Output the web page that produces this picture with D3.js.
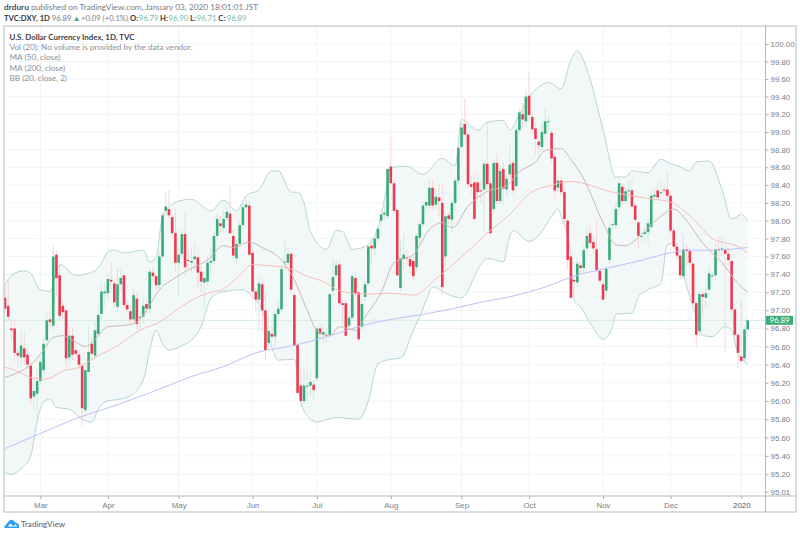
<!DOCTYPE html>
<html>
<head>
<meta charset="utf-8">
<script src="https://cdnjs.cloudflare.com/ajax/libs/d3/7.8.5/d3.min.js"></script>
<style>
    html, body { margin: 0; padding: 0; background: #fff; }
    svg { display: block; font-family: Lato, "Open Sans", sans-serif; }
    .tick text { fill: #7b7e84; }
</style>
</head>
<body>
<svg id="chart" width="800" height="535"></svg>
<script>
// one entry per trading day, 14 Feb 2019 to 3 Jan 2020
var opens = [
    97.14,97.05,96.80,96.80,96.53,96.48,96.58,96.51,96.39,96.05,
    96.08,96.22,96.34,96.67,96.90,96.83,97.62,97.39,97.05,97.00,
    96.48,96.72,96.56,96.51,96.39,95.90,96.32,96.63,96.50,96.74,
    96.96,97.19,97.19,97.34,97.30,97.04,97.29,97.39,97.06,96.99,
    96.90,97.13,96.92,96.93,97.07,97.02,97.42,97.38,97.28,97.60,
    98.11,98.13,98.04,97.86,97.53,97.63,97.85,97.56,97.53,97.57,
    97.59,97.43,97.31,97.32,97.53,97.55,97.83,97.97,97.92,98.03,
    98.08,97.83,97.58,97.74,97.95,98.15,98.17,97.64,97.21,97.12,
    97.29,97.00,96.64,96.74,96.71,96.96,97.01,97.53,97.53,97.63,
    97.17,96.62,96.17,96.00,96.16,96.17,96.18,96.25,96.80,96.73,
    96.72,96.73,97.22,97.39,97.51,97.08,97.08,96.83,96.92,97.36,
    97.20,96.82,97.15,97.30,97.72,97.69,97.80,98.00,98.07,98.05,
    98.61,98.42,98.12,97.25,97.57,97.59,97.57,97.55,97.48,97.81,
    97.96,98.17,98.17,98.37,98.18,98.26,98.20,97.60,98.06,98.01,
    98.20,98.45,98.83,99.09,98.97,98.41,98.43,98.43,98.34,98.35,
    98.64,98.42,98.13,98.65,98.22,98.58,98.35,98.52,98.65,98.39,
    99.02,99.20,99.12,99.41,99.17,99.04,98.89,98.83,98.98,99.11,
    98.99,98.72,98.37,98.45,98.32,98.00,97.60,97.34,97.31,97.50,
    97.47,97.69,97.86,97.76,97.68,97.44,97.29,97.22,97.56,97.95,
    97.95,98.15,98.38,98.22,98.33,98.34,98.17,97.98,97.82,97.85,
    97.87,97.93,98.27,98.34,98.31,98.35,98.35,98.28,97.89,97.71,
    97.61,97.38,97.68,97.66,97.52,97.08,96.77,97.18,97.14,97.23,
    97.38,97.39,97.68,97.68,97.68,97.63,97.55,97.01,96.73,96.49,96.47,96.79
];
var highs = [
    97.29,97.36,96.91,96.90,96.60,96.78,96.78,96.59,96.42,96.23,
    96.34,96.48,96.70,97.00,97.00,97.72,97.66,97.51,97.10,97.02,
    96.82,96.82,96.62,96.55,96.42,96.40,96.82,96.70,96.88,97.05,
    97.31,97.30,97.41,97.53,97.34,97.47,97.45,97.42,97.12,97.05,
    97.25,97.20,97.00,97.12,97.12,97.48,97.48,97.42,97.66,98.10,
    98.33,98.34,98.08,98.13,97.70,97.90,98.11,97.70,97.70,97.75,
    97.68,97.50,97.42,97.62,97.70,97.88,98.08,98.05,98.11,98.15,
    98.38,97.90,97.80,98.00,98.20,98.24,98.22,97.68,97.25,97.38,
    97.36,97.19,96.95,96.82,97.00,97.10,97.50,97.77,97.70,97.66,
    97.20,96.65,96.36,96.36,96.35,96.30,96.22,96.83,96.84,96.85,
    96.80,97.20,97.58,97.57,97.55,97.12,97.12,97.00,97.42,97.43,
    97.22,97.12,97.33,97.74,97.81,97.84,97.95,98.13,98.18,98.60,
    98.95,98.46,98.15,97.79,97.85,97.68,97.60,97.60,97.86,98.00,
    98.22,98.25,98.47,98.47,98.34,98.41,98.41,98.10,98.10,98.25,
    98.48,98.85,99.14,99.38,99.00,98.52,98.54,98.52,98.44,98.68,
    99.12,98.46,98.70,98.75,98.62,98.65,98.52,98.84,98.70,99.06,
    99.26,99.33,99.48,99.68,99.20,99.10,98.95,99.10,99.26,99.20,
    99.02,98.76,98.50,98.50,98.36,98.03,97.65,97.40,97.55,97.55,
    97.72,97.92,97.94,97.82,98.01,97.48,97.33,97.50,97.98,98.01,
    98.20,98.47,98.42,98.38,98.46,98.46,98.20,98.00,97.90,97.93,
    98.02,98.32,98.35,98.43,98.45,98.42,98.55,98.32,97.93,97.75,
    97.65,97.85,97.72,97.70,97.55,97.10,97.22,97.20,97.25,97.49,
    97.42,97.75,97.82,97.82,97.73,97.70,97.58,97.03,96.76,97.11,96.83,96.90
];
var lows = [
    96.98,96.89,96.67,96.43,96.38,96.36,96.40,96.34,95.95,95.88,
    95.82,96.18,96.30,96.60,96.80,96.78,97.17,96.90,96.90,96.37,
    96.40,96.45,96.47,96.36,95.73,95.88,96.30,96.45,96.46,96.70,
    96.90,97.05,97.10,97.20,97.03,96.98,97.22,97.02,96.97,96.85,
    96.85,96.78,96.80,96.85,96.96,96.96,97.32,97.22,97.24,97.55,
    98.05,98.02,97.80,97.44,97.15,97.56,97.38,97.45,97.42,97.45,
    97.24,97.19,97.02,97.27,97.40,97.50,97.78,97.86,97.86,98.00,
    97.84,97.57,97.53,97.70,97.90,98.12,97.60,97.18,97.00,96.76,
    96.76,96.45,96.58,96.66,96.59,96.90,96.98,97.45,97.50,97.19,
    96.60,96.07,95.98,95.97,96.00,96.05,96.02,96.22,96.67,96.62,
    96.65,96.70,97.15,97.35,97.04,96.85,96.70,96.80,96.88,97.14,
    96.65,96.78,97.10,97.27,97.51,97.60,97.75,97.93,98.00,98.02,
    98.38,98.08,97.36,97.21,97.45,97.50,97.41,97.32,97.42,97.75,
    97.92,98.10,98.12,98.12,98.12,98.05,97.17,97.49,97.96,97.86,
    98.12,98.40,98.80,98.94,98.37,98.30,98.00,98.25,98.20,97.88,
    98.35,97.83,98.08,98.18,98.18,98.17,98.28,98.46,98.30,98.35,
    98.98,99.05,99.05,99.12,98.98,98.75,98.75,98.78,98.93,99.00,
    98.66,98.22,98.32,98.28,97.98,97.45,97.12,97.20,97.26,97.40,
    97.40,97.65,97.70,97.62,97.42,97.30,97.10,97.15,97.52,97.90,
    97.90,98.10,98.18,98.18,98.25,98.12,97.97,97.68,97.75,97.75,
    97.73,97.90,98.20,98.22,98.26,98.28,98.22,97.85,97.67,97.56,
    97.35,97.35,97.50,97.48,97.05,96.59,96.72,96.93,97.04,97.20,
    97.32,97.35,97.60,97.60,96.54,97.50,96.98,96.70,96.36,96.41,96.42,96.71
];
var closes = [
    97.02,96.93,96.78,96.53,96.50,96.61,96.48,96.40,96.03,96.11,
    96.22,96.43,96.63,96.89,96.87,97.60,97.36,96.94,96.98,96.47,
    96.72,96.51,96.52,96.40,95.92,96.34,96.54,96.52,96.78,96.95,
    97.21,97.21,97.35,97.32,97.09,97.29,97.36,97.06,97.01,96.90,
    97.17,96.85,96.93,97.05,97.02,97.43,97.38,97.28,97.60,98.06,
    98.16,98.06,97.86,97.53,97.62,97.85,97.48,97.55,97.55,97.60,
    97.42,97.32,97.36,97.53,97.55,97.83,98.02,97.94,98.02,98.10,
    97.86,97.61,97.74,97.95,98.15,98.18,97.62,97.21,97.12,97.30,
    97.00,96.56,96.77,96.71,96.96,97.02,97.46,97.54,97.63,97.23,
    96.61,96.09,96.00,96.17,96.17,96.21,96.12,96.80,96.74,96.76,
    96.73,97.18,97.37,97.50,97.08,97.06,96.72,96.92,97.38,97.19,
    96.68,97.07,97.29,97.71,97.69,97.80,97.91,98.07,98.09,98.58,
    98.42,98.11,97.39,97.58,97.62,97.58,97.49,97.38,97.83,97.96,
    98.17,98.21,98.37,98.17,98.27,98.22,97.26,98.05,98.02,98.20,
    98.45,98.82,99.05,98.97,98.41,98.38,98.02,98.32,98.33,98.64,
    98.41,97.86,98.65,98.22,98.56,98.36,98.47,98.63,98.34,99.02,
    99.22,99.14,99.40,99.19,99.03,98.92,98.85,99.00,99.12,99.12,
    98.70,98.34,98.45,98.32,98.02,97.56,97.14,97.32,97.52,97.47,
    97.67,97.83,97.75,97.69,97.45,97.33,97.12,97.46,97.92,97.96,
    98.13,98.42,98.22,98.33,98.34,98.16,98.01,97.83,97.83,97.87,
    97.97,98.28,98.29,98.26,98.32,98.34,98.28,97.89,97.71,97.61,
    97.39,97.68,97.66,97.53,97.08,96.73,97.18,97.15,97.19,97.41,
    97.39,97.68,97.67,97.69,97.63,97.56,97.01,96.73,96.53,96.44,96.79,96.89
];

var ma200Bars = [0,10,23,35,48,58,68,78,91,102,111,120,129,138,148,158,168,177,186,196,207,212,220,231];
var ma200Vals = [95.48,95.63,95.82,95.96,96.13,96.27,96.38,96.53,96.62,96.73,96.83,96.90,96.95,97.01,97.09,97.16,97.26,97.38,97.46,97.54,97.64,97.67,97.67,97.70];

var ma50Bars = [0,3,8,12,14,18,23,28,35,42,48,54,60,63,68,73,77,81,88,94,99,104,112,120,127,135,144,150,157,163,170,176,189,200,207,214,220,228,231];
var ma50Vals = [96.37,96.34,96.26,96.24,96.25,96.33,96.37,96.48,96.61,96.78,96.87,97.02,97.15,97.19,97.24,97.39,97.51,97.50,97.47,97.38,97.32,97.22,97.18,97.19,97.17,97.38,97.66,97.86,98.07,98.30,98.40,98.44,98.32,98.25,98.21,98.02,97.80,97.71,97.64];

var basisBars = [0,5,9,12,15,18,22,25,28,32,36,40,44,48,52,57,63,68,71,76,80,86,90,94,97,101,104,109,112,117,121,127,132,136,139,144,150,156,160,165,168,173,176,180,186,190,193,198,204,208,212,217,223,228,231];
var basisVals = [96.26,96.33,96.43,96.56,96.70,96.72,96.65,96.60,96.68,96.82,96.83,96.85,97.00,97.23,97.34,97.45,97.56,97.72,97.70,97.76,97.70,97.56,97.34,97.00,96.78,96.72,96.82,96.78,96.93,97.20,97.53,97.62,97.90,97.98,97.92,98.16,98.33,98.39,98.55,98.66,98.79,98.81,98.69,98.47,97.98,97.73,97.72,97.85,98.05,98.13,98.00,97.75,97.53,97.30,97.20];

var upperBars = [0,2,6,8,11,14,17,22,28,33,34,37,43,45,47,49,54,58,64,68,72,75,79,83,85,89,91,93,95,100,103,105,108,112,116,118,120,125,130,136,140,142,147,150,155,157,160,164,169,173,176,178,181,186,190,193,195,200,204,207,209,213,215,219,223,226,229,231];
var upperVals = [97.28,97.39,97.44,97.41,97.23,97.21,97.51,97.39,97.44,97.67,97.67,97.64,97.67,97.54,97.59,98.05,98.22,98.24,98.11,98.23,98.11,98.28,98.35,98.56,98.56,98.32,98.32,98.20,97.88,97.68,97.89,97.88,97.68,97.71,97.92,98.24,98.60,98.61,98.52,98.70,98.62,99.14,99.02,99.11,99.13,99.02,99.20,99.44,99.56,99.49,99.82,99.92,99.71,99.03,98.49,98.49,98.56,98.54,98.69,98.64,98.62,98.56,98.66,98.67,98.35,98.02,98.07,98.00];

var lowerBars = [0,2,5,8,10,12,14,16,20,24,27,29,31,38,43,45,47,49,51,55,58,61,64,68,74,77,80,83,85,90,92,94,97,103,110,113,116,120,123,127,129,131,133,137,140,142,148,150,155,157,158,163,167,170,172,173,176,177,179,182,186,189,190,195,197,200,204,206,208,210,213,216,217,220,224,226,228,231];
var lowerVals = [95.22,95.20,95.26,95.40,95.78,95.99,96.02,95.93,95.91,95.80,95.77,95.91,95.99,96.04,96.23,96.56,96.78,96.63,96.56,96.61,96.67,96.82,97.13,97.21,97.23,97.15,97.00,96.59,96.45,96.46,95.99,95.84,95.77,95.82,95.80,96.00,96.41,96.46,96.47,96.78,96.93,97.11,97.26,97.19,97.15,97.14,97.51,97.58,97.54,97.83,97.89,97.77,97.88,98.05,98.13,98.05,97.60,97.11,97.04,96.86,96.68,96.82,96.96,96.97,97.15,97.23,97.30,97.73,97.75,97.53,97.15,96.82,96.72,96.71,96.82,96.78,96.52,96.41];

var priceTicks = [95.01,95.20,95.40,95.60,95.80,96.00,96.20,96.40,96.60,96.80,97.00,97.20,97.40,97.60,97.80,98.00,98.20,98.40,98.60,98.80,99.00,99.20,99.40,99.60,99.80,100.00];
var monthBars = [11,32,54,77,97,120,142,163,186,207,229];
var monthNames = ["Mar","Apr","May","Jun","Jul","Aug","Sep","Oct","Nov","Dec","2020"];

var legendLines = ["Vol (20): No volume is provided by the data vendor.", "MA (50, close)", "MA (200, close)", "BB (20, close, 2)"];

var green = "#3cab7a", red = "#ee3a50", teal = "#6dbdab";
var last = closes.length - 1;

var svg = d3.select("#chart");

var x = d3.scaleLinear().domain([0, last]).range([5, 747.7]);
// the price axis is logarithmic
var y = d3.scaleLog().domain([100, 95.01]).range([44, 491.7]);

svg.append("clipPath").attr("id", "plot").append("rect")
    .attr("x", 4).attr("y", 26).attr("width", 761.5).attr("height", 470);

// grid
var grid = svg.append("g").attr("stroke", "#f1f5f8").attr("stroke-width", 1);
grid.selectAll("line.h").data(priceTicks).enter().append("line")
    .attr("class", "h")
    .attr("x1", 4).attr("x2", 765.5)
    .attr("y1", function(d) { return y(d); })
    .attr("y2", function(d) { return y(d); });
grid.selectAll("line.v").data(monthBars).enter().append("line")
    .attr("class", "v")
    .attr("y1", 26).attr("y2", 496)
    .attr("x1", function(d) { return x(d); })
    .attr("x2", function(d) { return x(d); });

var plot = svg.append("g").attr("clip-path", "url(#plot)");

function makeLine(bars, vals) {
    return d3.line()
        .x(function(d) { return x(d); })
        .y(function(d, i) { return y(vals[i]); })
        .curve(d3.curveMonotoneX)(bars);
}

// bollinger band fill: upper edge forward, lower edge back
var revBars = lowerBars.slice().reverse();
var revVals = lowerVals.slice().reverse();
plot.append("path")
    .attr("d", makeLine(upperBars, upperVals) + "L" + makeLine(revBars, revVals).slice(1) + "Z")
    .attr("fill", "#f2f8f8");

// last price line
plot.append("line")
    .attr("x1", 4).attr("x2", 765.5)
    .attr("y1", y(closes[last])).attr("y2", y(closes[last]))
    .attr("stroke", "#d3ebe1").attr("stroke-width", 1);

function drawLine(bars, vals, color) {
    plot.append("path")
        .attr("d", makeLine(bars, vals))
        .attr("fill", "none")
        .attr("stroke", color)
        .attr("stroke-width", 1);
}

drawLine(upperBars, upperVals, "#b4d6d4");
drawLine(lowerBars, lowerVals, "#b4d6d4");

// candles
var bars = d3.range(closes.length);
plot.selectAll("line.wick").data(bars).enter().append("line")
    .attr("class", "wick")
    .attr("x1", function(d) { return x(d); })
    .attr("x2", function(d) { return x(d); })
    .attr("y1", function(d) { return y(highs[d]); })
    .attr("y2", function(d) { return y(lows[d]); })
    .attr("stroke", function(d) { return closes[d] >= opens[d] ? "#cfeadd" : "#fad4d8"; })
    .attr("stroke-width", 1);

plot.selectAll("rect.body").data(bars).enter().append("rect")
    .attr("class", "body")
    .attr("x", function(d) { return x(d) - 1.3; })
    .attr("width", 2.6)
    .attr("y", function(d) { return y(Math.max(opens[d], closes[d])); })
    .attr("height", function(d) { return Math.max(1, Math.abs(y(opens[d]) - y(closes[d]))); })
    .attr("fill", function(d) { return closes[d] >= opens[d] ? green : red; });

drawLine(ma50Bars, ma50Vals, "#f7bdb5");
drawLine(ma200Bars, ma200Vals, "#bfbff7");
drawLine(basisBars, basisVals, "#cdb6b2");

// axes
var yAxis = d3.axisRight(y)
    .tickValues(priceTicks)
    .tickFormat(d3.format(".2f"))
    .tickSize(3)
    .tickPadding(2);
var yG = svg.append("g").attr("transform", "translate(765.5,0)").call(yAxis);

var xAxis = d3.axisBottom(x)
    .tickValues(monthBars)
    .tickFormat(function(d, i) { return monthNames[i]; })
    .tickSize(3)
    .tickPadding(3);
var xG = svg.append("g").attr("transform", "translate(0,496)").call(xAxis);

svg.selectAll(".domain").remove();
svg.selectAll(".tick line").attr("stroke", "#a9acb0");
svg.selectAll(".tick text").style("font-size", "7.9px");
xG.selectAll(".tick:last-of-type text").style("fill", "#55585d");

// panel frame
svg.append("rect").attr("x", 4).attr("y", 26).attr("width", 792).attr("height", 486)
    .attr("fill", "none").attr("stroke", "#b4b7ba").attr("stroke-width", 1);
svg.append("line").attr("x1", 4).attr("x2", 796).attr("y1", 496).attr("y2", 496)
    .attr("stroke", "#b4b7ba");
svg.append("line").attr("x1", 765.5).attr("x2", 765.5).attr("y1", 26).attr("y2", 512)
    .attr("stroke", "#b4b7ba");

// last price label covers the axis text underneath it
svg.append("rect").attr("x", 766).attr("y", y(closes[last]) - 4.5).attr("width", 27).attr("height", 9)
    .attr("fill", green);
svg.append("text").attr("x", 779.5).attr("y", y(closes[last]) + 3)
    .attr("text-anchor", "middle").attr("fill", "#fff").style("font-size", "7.9px")
    .text(d3.format(".2f")(closes[last]));

// header text
var head = svg.append("text").attr("x", 4).attr("y", 10).style("font-size", "8.3px").attr("fill", "#7b7e84");
head.append("tspan").attr("font-weight", "bold").attr("fill", "#4a4d52").text("drduru");
head.append("tspan").text(" published on TradingView.com, January 03, 2020 18:01:01 JST");

var head2 = svg.append("text").attr("y", 21).style("font-size", "7.7px").attr("fill", "#7b7e84");
head2.append("tspan").attr("x", 4).attr("font-weight", "bold").attr("fill", "#3a3d42").text("TVC:DXY, 1D");
head2.append("tspan").attr("x", 51.7).text("96.89");
head2.append("tspan").attr("x", 72.7).attr("fill", "#3fa58f").text("\u25B2");
head2.append("tspan").attr("x", 81).text("+0.09 (+0.1%)");
[["O:", "96.79", 130, 138.7], ["H:", "96.90", 160, 168.5], ["L:", "96.71", 190, 196.7], ["C:", "96.89", 218.3, 226.7]].forEach(function(p) {
    head2.append("tspan").attr("x", p[2]).attr("font-weight", "bold").attr("fill", "#3a3d42").text(p[0]);
    head2.append("tspan").attr("x", p[3]).attr("fill", teal).text(p[1]);
});

// legend
svg.append("text").attr("x", 9.5).attr("y", 39.5).attr("fill", "#3f4247")
    .style("font-size", "7.9px").style("font-weight", "bold")
    .text("U.S. Dollar Currency Index, 1D, TVC");
svg.selectAll("text.legend").data(legendLines).enter().append("text")
    .attr("class", "legend")
    .attr("x", 9.5)
    .attr("y", function(d, i) { return 50 + i * 10.3; })
    .attr("fill", "#8d9095")
    .style("font-size", "8.2px")
    .text(function(d) { return d; });

// logo
svg.append("path")
    .attr("d", "M4 527 L9 521 Q11.5 518.5 14 521 L16 523 Q18 522.5 19 525 L19 528 L5 528 Z M7.5 526.5 L10.5 523.5 L13 526 L15.5 524.5 L17.5 526.5 Z")
    .attr("fill", "#2a9df4")
    .attr("fill-rule", "evenodd");
svg.append("text").attr("x", 21).attr("y", 527).attr("fill", "#5a5d62")
    .style("font-size", "8.2px").text("TradingView");
</script>
</body>
</html>
